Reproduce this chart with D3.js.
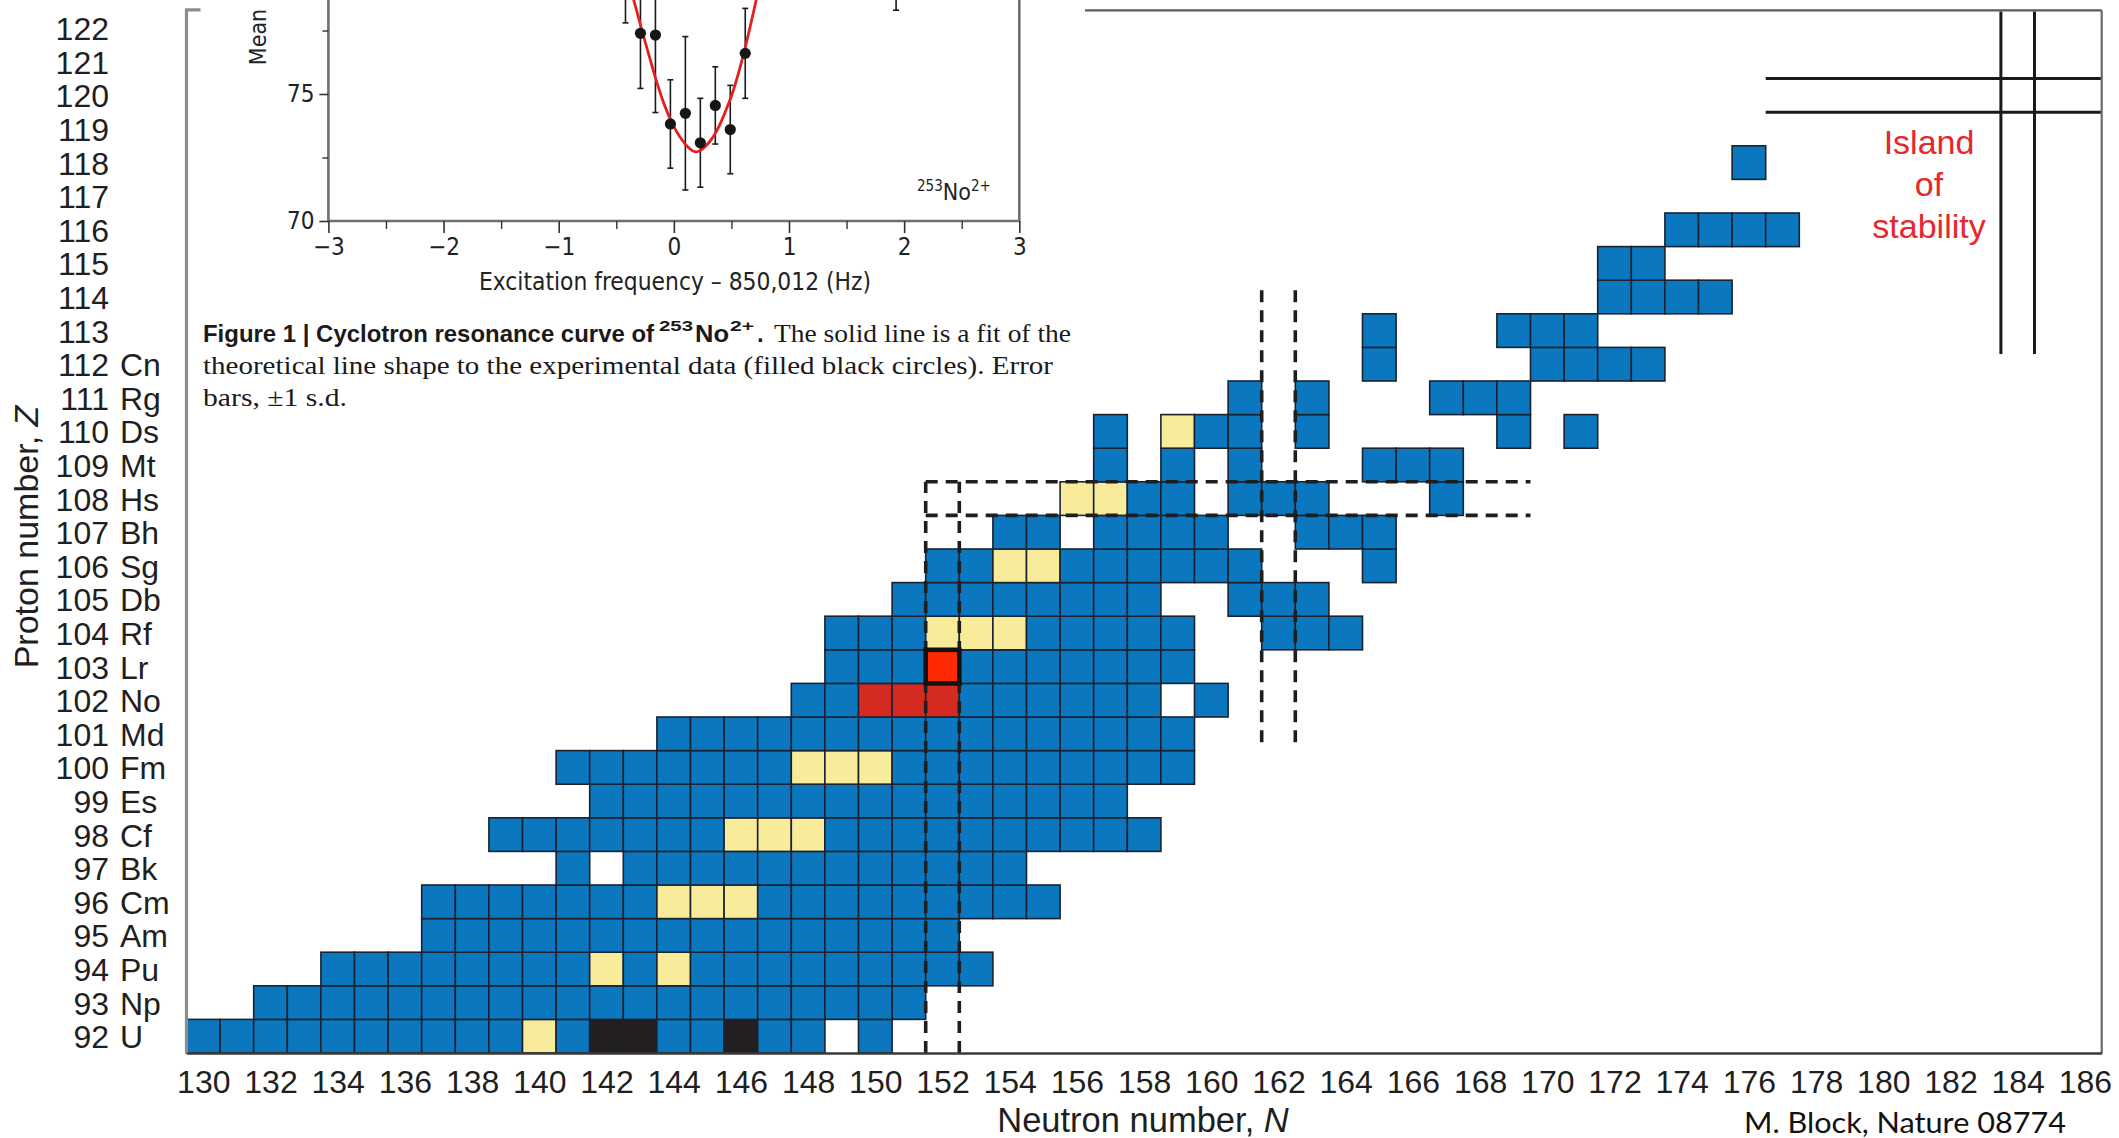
<!DOCTYPE html>
<html>
<head>
<meta charset="utf-8">
<script src="https://cdn.jsdelivr.net/npm/d3@7"></script>
<style>
  html, body { margin: 0; padding: 0; background: #ffffff; }
  svg { display: block; }
</style>
</head>
<body>
<svg id="chart" width="2119" height="1138"></svg>
<script>
// ---------- Chart of heavy nuclides (N vs Z) ----------
const neutronTicks = [130,132,134,136,138,140,142,144,146,148,150,152,154,156,158,160,162,164,166,168,170,172,174,176,178,180,182,184,186];
const protonTicks = [92,93,94,95,96,97,98,99,100,101,102,103,104,105,106,107,108,109,110,111,112,113,114,115,116,117,118,119,120,121,122];
const elementSymbols = ["U","Np","Pu","Am","Cm","Bk","Cf","Es","Fm","Md","No","Lr","Rf","Db","Sg","Bh","Hs","Mt","Ds","Rg","Cn","","","","","","","","","",""];

// known nuclides per proton number: [Z, firstN, lastN]
const knownRanges = [
  [92,130,148],[92,150,150],
  [93,132,151],
  [94,134,153],
  [95,137,152],
  [96,137,155],
  [97,141,141],[97,143,154],
  [98,139,158],
  [99,142,157],
  [100,141,159],
  [101,144,159],
  [102,148,158],[102,160,160],
  [103,149,159],
  [104,149,159],[104,162,164],
  [105,151,158],[105,161,163],
  [106,152,161],[106,165,165],
  [107,154,155],[107,157,160],[107,163,165],
  [108,156,159],[108,161,163],[108,167,167],
  [109,157,157],[109,159,159],[109,161,161],[109,165,167],
  [110,157,157],[110,159,161],[110,163,163],[110,169,169],[110,171,171],
  [111,161,161],[111,163,163],[111,167,169],
  [112,165,165],[112,170,173],
  [113,165,165],[113,169,171],
  [114,172,175],
  [115,172,173],
  [116,174,177],
  [118,176,176]
];
// [Z, N] with a directly measured mass
const massMeasured = [[92,140],[94,142],[94,144],[96,144],[96,145],[96,146],[98,146],[98,147],[98,148],
  [100,148],[100,149],[100,150],[104,152],[104,153],[104,154],[106,154],[106,155],[108,156],[108,157],[110,159]];
// [Z, N] long-lived primordial
const longLived = [[92,142],[92,143],[92,146]];
// [Z, N] nobelium isotopes measured with the Penning trap
const nobeliumMeasured = [[102,150],[102,151],[102,152]];
// highlighted nuclide [Z, N]
const highlighted = [103,152];

// shell-gap guides (dashed) and island of stability (solid)
const dashedNeutronShell = [152, 162];
const dashedProtonShell = [108];
const magicN = 184, magicZ = 120;

// ---------- Inset: cyclotron resonance of 253No2+ ----------
const freqTicks = [-3,-2,-1,0,1,2,3];
const freqMinorTicks = [-2.5,-1.5,-0.5,0.5,1.5,2.5];
const meanTicks = [70,75];
const meanMinorTicks = [72.5,77.5];
const resFreq = [-0.42,-0.29,-0.16,-0.03,0.10,0.23,0.36,0.49,0.62,1.93];
const resMean = [80.0,77.39,77.32,73.82,74.24,73.08,74.55,73.60,76.60,80.0];
const resSd   = [2.2,2.17,3.05,1.74,3.02,1.75,1.52,1.74,1.77,1.7];
const fitFreq = [-0.38,-0.33,-0.28,-0.23,-0.18,-0.13,-0.08,-0.03,0.02,0.07,0.12,0.16,0.19,0.22,0.26,0.31,0.36,0.41,0.46,0.51,0.56,0.61,0.66,0.71,0.74];
const fitMean = [79.2,78.4,77.55,76.75,75.95,75.2,74.55,74.0,73.55,73.2,72.92,72.77,72.72,72.76,72.88,73.12,73.45,73.9,74.45,75.05,75.8,76.65,77.6,78.6,79.3];

const COLORS = {
  known: "#0a77bf",
  mass: "#f8ec9a",
  longLived: "#231f20",
  nobelium: "#d42a21",
  highlight: "#ff2a00",
  cellStroke: "#1c2330"
};
const SANS = "'Liberation Sans', Arial, Helvetica, sans-serif";

const svg = d3.select("#chart");
svg.append("rect").attr("width", 2119).attr("height", 1138).attr("fill", "#fff");

const x = d3.scaleLinear().domain([129.5, 186.5]).range([186.5, 2101.7]);
const y = d3.scaleLinear().domain([91.5, 122.5]).range([1053, 11.4]);

// build cell list
const kindOf = new Map();
massMeasured.forEach(([z, n]) => kindOf.set(z + "-" + n, "mass"));
longLived.forEach(([z, n]) => kindOf.set(z + "-" + n, "longLived"));
nobeliumMeasured.forEach(([z, n]) => kindOf.set(z + "-" + n, "nobelium"));
const cells = [];
knownRanges.forEach(([z, n0, n1]) => {
  for (let n = n0; n <= n1; n++) cells.push({ z, n, kind: kindOf.get(z + "-" + n) || "known" });
});

const fillOf = { known: COLORS.known, mass: COLORS.mass, longLived: COLORS.longLived, nobelium: COLORS.nobelium };

svg.append("g").attr("class", "cells")
  .selectAll("rect").data(cells).join("rect")
  .attr("x", d => x(d.n - 0.5))
  .attr("y", d => y(d.z + 0.5))
  .attr("width", d => x(d.n + 0.5) - x(d.n - 0.5))
  .attr("height", d => y(d.z - 0.5) - y(d.z + 0.5))
  .attr("fill", d => fillOf[d.kind])
  .attr("stroke", COLORS.cellStroke)
  .attr("stroke-width", 1.6);

// dashed shell guides
const dashG = svg.append("g").attr("fill", "none").attr("stroke", "#1e1e1e")
  .attr("stroke-width", 3.6).attr("stroke-dasharray", "12,8");
// N = 152 : from the axis up to the Z = 108 row
[dashedNeutronShell[0] - 0.5, dashedNeutronShell[0] + 0.5].forEach(v => {
  dashG.append("line").attr("x1", x(v)).attr("x2", x(v)).attr("y1", y(91.5)).attr("y2", y(108.5));
});
// N = 162 : around the deformed shell region
[dashedNeutronShell[1] - 0.5, dashedNeutronShell[1] + 0.5].forEach(v => {
  dashG.append("line").attr("x1", x(v)).attr("x2", x(v)).attr("y1", y(100.75)).attr("y2", y(114.35));
});
// Z = 108
[dashedProtonShell[0] - 0.5, dashedProtonShell[0] + 0.5].forEach(v => {
  dashG.append("line").attr("x1", x(151.5)).attr("x2", x(169.5)).attr("y1", y(v)).attr("y2", y(v));
});

// highlighted nuclide
svg.append("rect")
  .attr("x", x(highlighted[1] - 0.5)).attr("y", y(highlighted[0] + 0.5))
  .attr("width", x(highlighted[1] + 0.5) - x(highlighted[1] - 0.5))
  .attr("height", y(highlighted[0] - 0.5) - y(highlighted[0] + 0.5))
  .attr("fill", COLORS.highlight).attr("stroke", "#111").attr("stroke-width", 4.6);

// island of stability: solid magic-number lines
const solidG = svg.append("g").attr("stroke", "#1a1a1a").attr("stroke-width", 3);
[magicN - 0.5, magicN + 0.5].forEach(v => {
  solidG.append("line").attr("x1", x(v)).attr("x2", x(v)).attr("y1", y(122.5)).attr("y2", y(112.3));
});
[magicZ - 0.5, magicZ + 0.5].forEach(v => {
  solidG.append("line").attr("x1", x(176.5)).attr("x2", x(186.5)).attr("y1", y(v)).attr("y2", y(v));
});
const island = svg.append("text").attr("fill", "#e8262d")
  .attr("font-family", SANS)
  .attr("font-size", 34).attr("text-anchor", "middle");
["Island", "of", "stability"].forEach((t, i) => {
  island.append("tspan").attr("x", 1929).attr("y", 154 + i * 42).text(t);
});

// frame
svg.append("line").attr("x1", 1085).attr("x2", x(186.5)).attr("y1", y(122.5) - 1).attr("y2", y(122.5) - 1)
  .attr("stroke", "#5a5a5a").attr("stroke-width", 2.2);
svg.append("line").attr("x1", x(186.5)).attr("x2", x(186.5)).attr("y1", y(122.5) - 1).attr("y2", y(91.5))
  .attr("stroke", "#6a6a6a").attr("stroke-width", 2.2);

// x axis
const xAxis = d3.axisBottom(x).tickValues(neutronTicks).tickSize(0).tickSizeOuter(0).tickPadding(14);
const gx = svg.append("g").attr("transform", `translate(0,${y(91.5)})`).call(xAxis);
gx.select(".domain").attr("stroke", "#3a3a3a").attr("stroke-width", 2.6);
gx.selectAll(".tick text")
  .attr("font-family", SANS)
  .attr("font-size", 32).attr("fill", "#1f1f1f").attr("dy", null).attr("y", 40);

// y axis: proton number and element symbol
const yAxis = d3.axisLeft(y).tickValues(protonTicks).tickSize(0).tickSizeOuter(0).tickPadding(x(129.5) - 109);
const gy = svg.append("g").attr("transform", `translate(${x(129.5)},0)`).call(yAxis);
gy.select(".domain").attr("stroke", "#8c8c8c").attr("stroke-width", 3.2)
  .attr("d", `M0,${y(91.5)}V${y(122.5) - 1.5}H14`);
gy.selectAll(".tick text")
  .attr("font-family", SANS)
  .attr("font-size", 32).attr("fill", "#1f1f1f").attr("dy", "0.36em");
gy.selectAll(".tick").append("text")
  .attr("x", 120 - x(129.5)).attr("dy", "0.36em")
  .attr("text-anchor", "start")
  .attr("font-family", SANS)
  .attr("font-size", 32).attr("fill", "#1f1f1f")
  .text(d => elementSymbols[protonTicks.indexOf(d)]);

// axis titles
const ytitle = svg.append("text")
  .attr("transform", "translate(38,537) rotate(-90)")
  .attr("text-anchor", "middle")
  .attr("font-family", SANS)
  .attr("font-size", 34).attr("fill", "#1f1f1f");
ytitle.append("tspan").text("Proton number, ");
ytitle.append("tspan").attr("font-style", "italic").text("Z");

const xtitle = svg.append("text")
  .attr("x", 1143).attr("y", 1132)
  .attr("text-anchor", "middle")
  .attr("font-family", SANS)
  .attr("font-size", 34.5).attr("fill", "#1f1f1f");
xtitle.append("tspan").text("Neutron number, ");
xtitle.append("tspan").attr("font-style", "italic").text("N");

svg.append("text")
  .attr("x", 1744).attr("y", 1133)
  .attr("textLength", 322).attr("lengthAdjust", "spacingAndGlyphs")
  .attr("font-family", "Lato, 'Open Sans', sans-serif")
  .attr("font-size", 28).attr("fill", "#111")
  .text("M. Block, Nature 08774");

// ---------- inset ----------
const NARROW = "'Liberation Sans Narrow', 'DejaVu Sans Condensed', 'Liberation Sans', sans-serif";
const fx = d3.scaleLinear().domain([-3, 3]).range([328.4, 1019.3]);
const fy = d3.scaleLinear().domain([70, 75]).range([221, 94]);
const inset = svg.append("g").attr("class", "inset");

// box
inset.append("path")
  .attr("d", `M${fx(-3)},0V${fy(70)}H${fx(3)}V0`)
  .attr("fill", "none").attr("stroke", "#6f6f6f").attr("stroke-width", 2.6);

const ix = inset.append("g").attr("transform", `translate(0,${fy(70)})`)
  .call(d3.axisBottom(fx).tickValues(freqTicks).tickSize(12).tickPadding(5).tickFormat(d3.format("d")));
ix.select(".domain").remove();
ix.selectAll(".tick line").attr("stroke", "#333").attr("stroke-width", 1.6);
ix.selectAll(".tick text").attr("font-family", NARROW).attr("font-size", 24).attr("fill", "#222");
inset.append("g").attr("transform", `translate(0,${fy(70)})`)
  .call(d3.axisBottom(fx).tickValues(freqMinorTicks).tickSize(8).tickFormat(""))
  .call(g => g.select(".domain").remove())
  .selectAll(".tick line").attr("stroke", "#333").attr("stroke-width", 1.4);

const iy = inset.append("g").attr("transform", `translate(${fx(-3)},0)`)
  .call(d3.axisLeft(fy).tickValues(meanTicks).tickSize(9).tickPadding(5).tickFormat(d3.format("d")));
iy.select(".domain").remove();
iy.selectAll(".tick line").attr("stroke", "#333").attr("stroke-width", 1.6);
iy.selectAll(".tick text").attr("font-family", NARROW).attr("font-size", 24).attr("fill", "#222");
inset.append("g").attr("transform", `translate(${fx(-3)},0)`)
  .call(d3.axisLeft(fy).tickValues(meanMinorTicks).tickSize(6).tickFormat(""))
  .call(g => g.select(".domain").remove())
  .selectAll(".tick line").attr("stroke", "#333").attr("stroke-width", 1.4);

inset.append("text")
  .attr("transform", "translate(266,37) rotate(-90)")
  .attr("text-anchor", "middle").attr("font-family", NARROW)
  .attr("font-size", 23).attr("fill", "#222").text("Mean");

inset.append("text")
  .attr("x", 479).attr("y", 290)
  .attr("textLength", 392).attr("lengthAdjust", "spacingAndGlyphs")
  .attr("font-family", NARROW).attr("font-size", 24).attr("fill", "#222")
  .text("Excitation frequency \u2013 850,012 (Hz)");

const ionLabel = inset.append("text").attr("x", 917).attr("y", 200)
  .attr("font-family", NARROW).attr("font-size", 23).attr("fill", "#222");
ionLabel.append("tspan").attr("font-size", 15).attr("dy", -9).text("253");
ionLabel.append("tspan").attr("dy", 9).text("No");
ionLabel.append("tspan").attr("font-size", 15).attr("dy", -9).text("2+");

// error bars and points
const resData = resFreq.map((f, i) => ({ f, m: resMean[i], s: resSd[i] }));
const eb = inset.append("g").attr("stroke", "#1a1a1a").attr("stroke-width", 1.6);
resData.forEach(d => {
  const x0 = fx(d.f);
  eb.append("line").attr("x1", x0).attr("x2", x0).attr("y1", fy(d.m - d.s)).attr("y2", fy(d.m + d.s));
  eb.append("line").attr("x1", x0 - 3).attr("x2", x0 + 3).attr("y1", fy(d.m - d.s)).attr("y2", fy(d.m - d.s));
  eb.append("line").attr("x1", x0 - 3).attr("x2", x0 + 3).attr("y1", fy(d.m + d.s)).attr("y2", fy(d.m + d.s));
});
const fitLine = d3.line().x(d => fx(d[0])).y(d => fy(d[1])).curve(d3.curveCatmullRom);
inset.append("path")
  .attr("d", fitLine(fitFreq.map((f, i) => [f, fitMean[i]])))
  .attr("fill", "none").attr("stroke", "#e3201f").attr("stroke-width", 2.8);
inset.append("g").selectAll("circle").data(resData).join("circle")
  .attr("cx", d => fx(d.f)).attr("cy", d => fy(d.m)).attr("r", 5.6).attr("fill", "#161616");

// caption
const SANS_B = "'Liberation Sans Narrow', 'Liberation Sans', Arial, sans-serif";
const SERIF = "'Liberation Serif', 'Times New Roman', serif";
const cap = inset.append("g").attr("fill", "#1a1a1a");
cap.append("text").attr("x", 203).attr("y", 342).attr("textLength", 451).attr("lengthAdjust", "spacingAndGlyphs")
  .attr("font-family", SANS_B).attr("font-weight", "bold").attr("font-size", 24)
  .text("Figure 1 | Cyclotron resonance curve of");
cap.append("text").attr("x", 659).attr("y", 331).attr("textLength", 34).attr("lengthAdjust", "spacingAndGlyphs")
  .attr("font-family", SANS_B).attr("font-weight", "bold").attr("font-size", 15).text("253");
cap.append("text").attr("x", 695).attr("y", 342).attr("textLength", 34).attr("lengthAdjust", "spacingAndGlyphs")
  .attr("font-family", SANS_B).attr("font-weight", "bold").attr("font-size", 24).text("No");
cap.append("text").attr("x", 730).attr("y", 331).attr("textLength", 24).attr("lengthAdjust", "spacingAndGlyphs")
  .attr("font-family", SANS_B).attr("font-weight", "bold").attr("font-size", 15).text("2+");
cap.append("text").attr("x", 757).attr("y", 342)
  .attr("font-family", SANS_B).attr("font-weight", "bold").attr("font-size", 24).text(".");
cap.append("text").attr("x", 774).attr("y", 342).attr("textLength", 297).attr("lengthAdjust", "spacingAndGlyphs")
  .attr("font-family", SERIF).attr("font-size", 25).text("The solid line is a fit of the");
cap.append("text").attr("x", 203).attr("y", 374).attr("textLength", 850).attr("lengthAdjust", "spacingAndGlyphs")
  .attr("font-family", SERIF).attr("font-size", 25)
  .text("theoretical line shape to the experimental data (filled black circles). Error");
cap.append("text").attr("x", 203).attr("y", 406).attr("textLength", 144).attr("lengthAdjust", "spacingAndGlyphs")
  .attr("font-family", SERIF).attr("font-size", 25).text("bars, \u00b11 s.d.");
</script>
</body>
</html>
